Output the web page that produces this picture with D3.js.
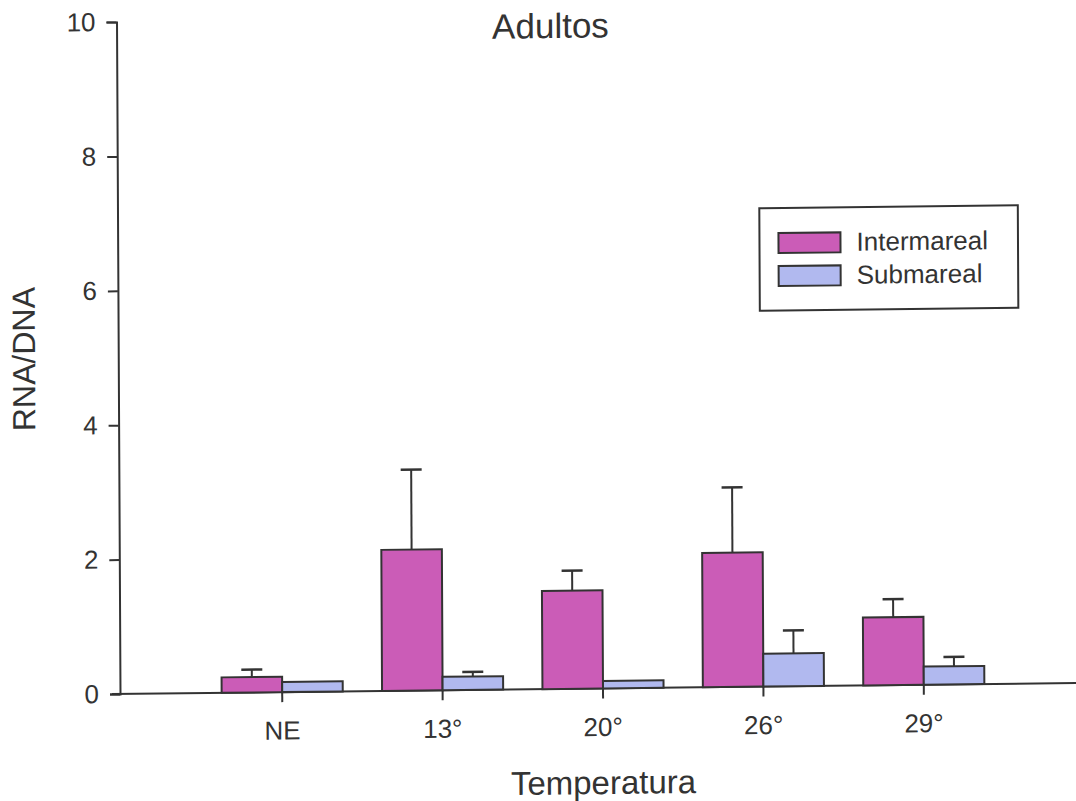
<!DOCTYPE html>
<html><head><meta charset="utf-8">
<script src="https://cdn.jsdelivr.net/npm/d3@7"></script>
<style>
body{margin:0;background:#fff}
text{font-family:"Liberation Sans",Arial,sans-serif;fill:#333}
</style>
</head><body>
<svg id="chart" width="1076" height="801"></svg>
<script>
// ---- data ----
const categories = ["NE", "13°", "20°", "26°", "29°"];
const seriesNames = ["Intermareal", "Submareal"];
const intermareal = [0.23, 2.10, 1.46, 2.00, 1.01];
const intermarealSE = [0.11, 1.19, 0.30, 0.97, 0.27];
const submareal = [0.15, 0.20, 0.11, 0.49, 0.27];
const submarealSE = [0, 0.07, 0, 0.34, 0.14];
const yTicks = [0, 2, 4, 6, 8, 10];
const colors = ["#cb5cb7", "#b1b9ef"];
const title = "Adultos";
const xTitle = "Temperatura";
const yTitle = "RNA/DNA";

// ---- layout (scanned page is slightly skewed) ----
const ox = 120, oy = 694;
const b = -0.0115, c = 0.0052;
const inv = (sx, sy) => {
  const dx = sx - ox, dy = sy - oy;
  const x = (dx - c * dy) / (1 - b * c);
  return [x, dy - b * x];
};
const ink = "#333";

const svg = d3.select("#chart");
const g = svg.append("g").attr("transform", `matrix(1,${b},${c},1,${ox},${oy})`);

const y = d3.scaleLinear().domain([0, 10]).range([0, -672]);
const x0 = d3.scaleBand().domain(categories).range([82, 884]).paddingInner(0.245).paddingOuter(0.1225);
const x1 = d3.scaleBand().domain(seriesNames).range([0, x0.bandwidth()]);

const data = categories.map((cat, i) => ({
  cat,
  vals: [
    {s: seriesNames[0], v: intermareal[i], e: intermarealSE[i], col: colors[0]},
    {s: seriesNames[1], v: submareal[i], e: submarealSE[i], col: colors[1]}
  ]
}));

// y axis
const yAxis = g.append("g").call(d3.axisLeft(y).tickValues(yTicks).tickSize(10).tickSizeOuter(10).tickPadding(12));
yAxis.select(".domain").attr("stroke", ink).attr("stroke-width", 2);
yAxis.selectAll(".tick line").attr("stroke", ink).attr("stroke-width", 2);
yAxis.selectAll(".tick text").attr("font-size", 26).attr("fill", "#333").attr("x", -21)
  .attr("font-family", "'Liberation Sans',Arial,sans-serif");

// x axis
g.append("line").attr("x1", -8).attr("x2", 965).attr("y1", y(0)).attr("y2", y(0))
  .attr("stroke", ink).attr("stroke-width", 2);
const xAxis = g.append("g").call(d3.axisBottom(x0).tickSize(10).tickSizeOuter(0));
xAxis.select(".domain").remove();
xAxis.selectAll(".tick line").attr("stroke", ink).attr("stroke-width", 2);
xAxis.selectAll(".tick text").attr("font-size", 26).attr("fill", "#333").attr("dy", null).attr("y", 47.5)
  .attr("font-family", "'Liberation Sans',Arial,sans-serif");

// bars
const groups = g.append("g").selectAll("g").data(data).join("g")
  .attr("transform", d => `translate(${x0(d.cat)},0)`);
groups.selectAll("rect").data(d => d.vals).join("rect")
  .attr("x", d => x1(d.s)).attr("width", x1.bandwidth())
  .attr("y", d => y(d.v)).attr("height", d => y(0) - y(d.v))
  .attr("fill", d => d.col).attr("stroke", ink).attr("stroke-width", 2);
// error bars (upper only)
const eb = groups.selectAll("g.err").data(d => d.vals.filter(v => v.e > 0)).join("g").attr("class", "err");
eb.append("line")
  .attr("x1", d => x1(d.s) + x1.bandwidth() / 2).attr("x2", d => x1(d.s) + x1.bandwidth() / 2)
  .attr("y1", d => y(d.v)).attr("y2", d => y(d.v + d.e))
  .attr("stroke", ink).attr("stroke-width", 2);
eb.append("line")
  .attr("x1", d => x1(d.s) + x1.bandwidth() / 2 - 10.5).attr("x2", d => x1(d.s) + x1.bandwidth() / 2 + 10.5)
  .attr("y1", d => y(d.v + d.e)).attr("y2", d => y(d.v + d.e))
  .attr("stroke", ink).attr("stroke-width", 2.5);

// titles
const tp = inv(550.5, 38);
g.append("text").attr("x", tp[0]).attr("y", tp[1]).attr("text-anchor", "middle").attr("font-size", 35).text(title);
const xp = inv(603.3, 794);
g.append("text").attr("x", (x0.range()[0] + x0.range()[1]) / 2).attr("y", xp[1]).attr("text-anchor", "middle").attr("font-size", 33).text(xTitle);
const yp = inv(35, 359);
g.append("text").attr("transform", `translate(${yp[0]},${yp[1]}) rotate(-90)`).attr("text-anchor", "middle").attr("font-size", 32).text(yTitle);

// legend
const lp = inv(759.3, 208.3);
const lg = g.append("g").attr("transform", `translate(${lp[0]},${lp[1]})`);
lg.append("rect").attr("width", 258.5).attr("height", 102.5).attr("fill", "#fff").attr("stroke", ink).attr("stroke-width", 2);
const li = lg.selectAll("g.li").data(seriesNames).join("g").attr("class", "li")
  .attr("transform", (d, i) => `translate(19,${25 + i * 33})`);
li.append("rect").attr("width", 62).attr("height", 20).attr("fill", (d, i) => colors[i]).attr("stroke", ink).attr("stroke-width", 2);
li.append("text").attr("x", 78).attr("y", 18.5).attr("font-size", 26).text(d => d);
</script>
</body></html>
